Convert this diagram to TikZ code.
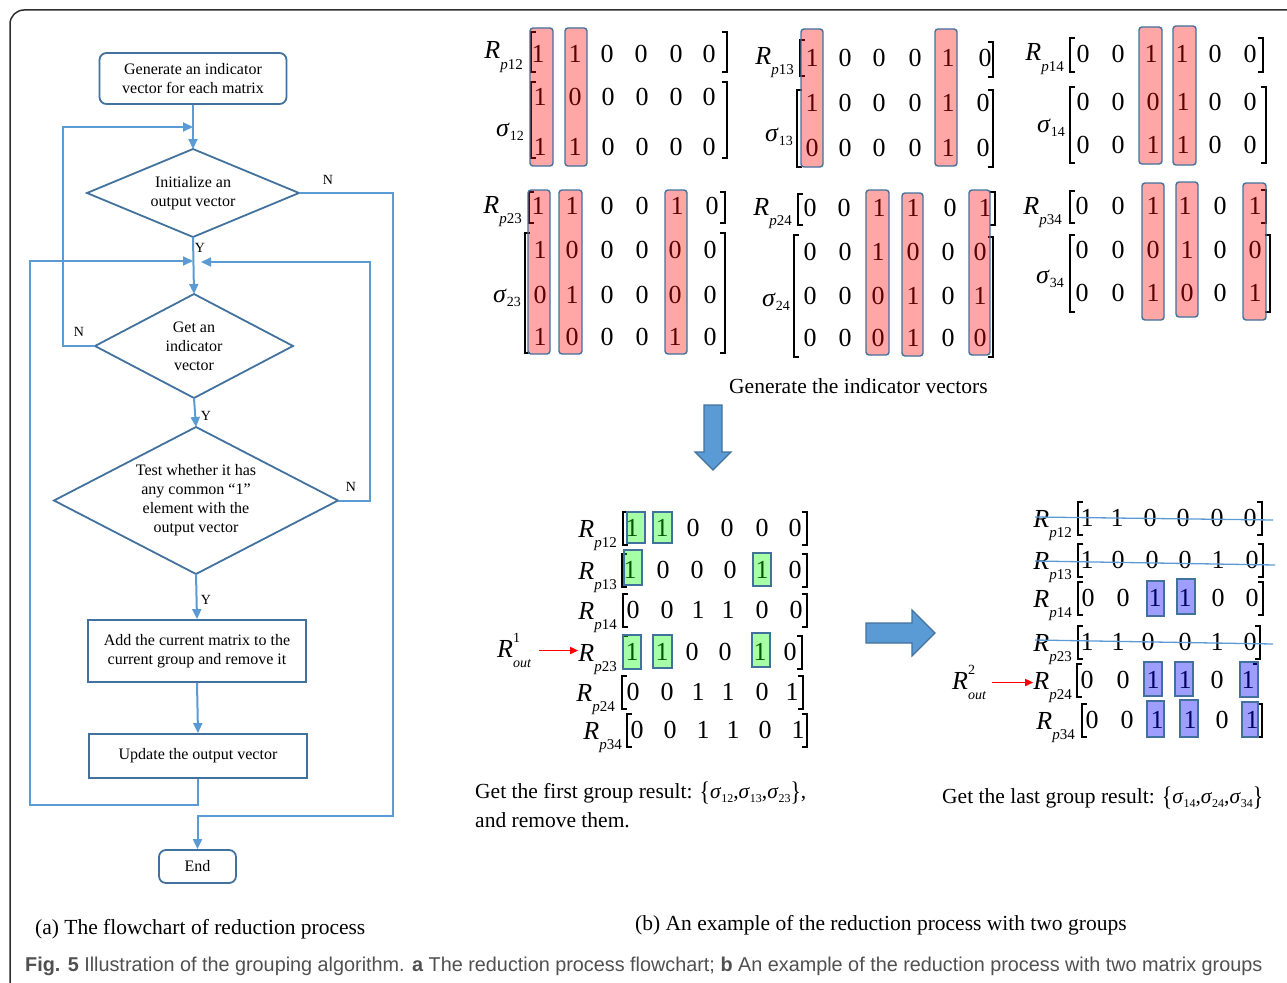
\documentclass[tikz,border=0pt]{standalone}
\usepackage{fontspec}
\usepackage{graphicx}
\setmainfont{Liberation Serif}
\newfontfamily\capfont{Liberation Sans}
\usetikzlibrary{arrows.meta,shapes.geometric,calc}

\definecolor{sblue}{HTML}{41719C}
\definecolor{cblue}{HTML}{5B9BD5}
\definecolor{capgray}{HTML}{505050}
\definecolor{framegray}{HTML}{2E2E2E}

% labels of the matrices
\newcommand\Rsub[1]{\textit{R}\raisebox{-0.42em}{\fontsize{15}{15}\selectfont\textit{p}#1}}
\newcommand\Ssub[1]{\textit{σ}\raisebox{-0.18em}{\fontsize{14}{14}\selectfont #1}}
\newcommand\Sres[1]{\textit{σ}\raisebox{-0.22em}{\fontsize{12}{12}\selectfont #1}}
\newcommand\Rout[1]{\textit{R}\makebox[0pt][l]{\raisebox{0.55em}{\fontsize{14}{14}\selectfont #1}}\raisebox{-0.4em}{\fontsize{14}{14}\selectfont\textit{out}}}
\newcommand\bigbr[1]{\raisebox{-0.1em}{\scalebox{1}[1.25]{#1}}}

% one row of matrix entries, square brackets, highlight boxes
\newcommand\mrow[3]{\foreach \px/\pv [count=\ci] in {#3} {\node[num] (#1-\ci) at (\px,#2) {\pv};}}
\newcommand\lbk[3]{\draw[brk] (#1+5,#2) -- (#1,#2) -- (#1,#3) -- (#1+5,#3);}
\newcommand\rbk[3]{\draw[brk] (#1-5,#2) -- (#1,#2) -- (#1,#3) -- (#1-5,#3);}
\newcommand\hl[5]{\draw[#1] (#2,#3) rectangle (#4,#5);}

\begin{document}
\begin{tikzpicture}[x=1pt,y=-1pt,
  conn/.style={draw=cblue, line width=2pt},
  arr/.style={conn, -{Triangle[length=10pt,width=9pt]}},
  flowbox/.style={draw=sblue, line width=1.8pt, align=center, inner sep=0pt, font=\fontsize{16}{19}\selectfont},
  rflowbox/.style={flowbox, rounded corners=7pt},
  dia/.style={diamond, draw=sblue, line width=1.8pt, inner sep=0pt, outer sep=0pt},
  dtext/.style={align=center, inner sep=0pt, font=\fontsize{16}{19}\selectfont},
  yn/.style={inner sep=0pt, font=\fontsize{14}{14}\selectfont},
  num/.style={inner sep=0pt, font=\fontsize{26}{26}\selectfont},
  lab/.style={inner sep=0pt, font=\fontsize{26}{26}\selectfont, anchor=base east},
  brk/.style={black, line width=1.3pt},
  pinkbox/.style={draw=sblue, line width=1.4pt, rounded corners=3pt, fill=red, fill opacity=0.35},
  greenbox/.style={draw=sblue, line width=1.4pt, fill=green, fill opacity=0.35},
  purplebox/.style={draw=sblue, line width=1.4pt, fill=blue, fill opacity=0.38},
  strike/.style={draw=cblue, line width=1.3pt},
  txt/.style={inner sep=0pt, anchor=base west, font=\fontsize{21.5}{26}\selectfont},
  redarr/.style={draw=red, line width=1.4pt, -{Triangle[length=8pt,width=7pt]}},
  bigarrow/.style={fill=cblue, draw=sblue, line width=1.2pt},
  frame/.style={draw=framegray, line width=1.5pt, rounded corners=14pt}]

\useasboundingbox (0,0) rectangle (1287,982);
\begin{scope}
  \clip (0,0) rectangle (1287,982);
  \draw[frame] (10,10) rectangle (1320,1000);
\end{scope}

% ---------------- flowchart ----------------
\node[rflowbox, minimum width=187pt, minimum height=51pt] (start) at (193,78.5) {Generate an indicator\\vector for each matrix};
\node[dia, minimum width=212pt, minimum height=88pt] (d1) at (193,193) {};
\node[dtext] (d1t) at (d1) {Initialize an\\output vector};
\node[dia, minimum width=198pt, minimum height=104pt] (d2) at (194,346) {};
\node[dtext] (d2t) at (d2) {Get an\\indicator\\vector};
\node[dia, minimum width=284pt, minimum height=147pt] (d3) at (196,500.5) {};
\node[dtext] (d3t) at (d3) {Test whether it has\\any common ``1''\\element with the\\output vector};
\node[flowbox, minimum width=218pt, minimum height=62pt] (add) at (197,651) {Add the current matrix to the\\current group and remove it};
\node[flowbox, minimum width=218pt, minimum height=44pt] (upd) at (198,756) {Update the output vector};
\node[rflowbox, minimum width=77pt, minimum height=33pt] (end) at (197.5,866.5) {End};

\coordinate (j1) at (193,127);
\coordinate (j2l) at (193,261);
\coordinate (j2r) at (201,262);
\coordinate (ll) at (63,346);
\coordinate (nR) at (393,816);
\coordinate (lb) at (30,805);
\coordinate (rb) at (370,500.5);

\draw[arr] (start.south) -- (d1.north);
\draw[arr] (d1.south) -- (d2.north);
\draw[arr] (d2.south) -- (d3.north);
\draw[arr] (d3.south) -- (add.north);
\draw[arr] (add.south) -- (upd.north);
\draw[arr] (d2.west) -- (ll) |- (j1);
\draw[arr] (d1.east) -| (nR) -| (end.north);
\draw[arr] (upd.south) |- (lb) |- (j2l);
\draw[arr] (d3.east) -- (rb) |- (j2r);

\node[yn] (n1) at (328,180) {N};
\node[yn] (y1) at (200,248) {Y};
\node[yn] (n2) at (79,332) {N};
\node[yn] (y2) at (206,416) {Y};
\node[yn] (n3) at (351,487) {N};
\node[yn] (y3) at (206,600) {Y};

% ---------------- indicator vectors ----------------
% R_p12 / sigma_12
\mrow{a}{54}{538/1,575/1,607/0,641/0,676/0,709/0}
\mrow{sa1}{97}{540/1,575/0,608/0,642/0,676/0,709/0}
\mrow{sa2}{147}{540/1,575/1,608/0,642/0,676/0,709/0}
\lbk{531}{32}{72}\rbk{727}{32}{72}
\lbk{531}{82}{158}\rbk{727}{82}{158}
\node[lab] (la) at (523,59) {\Rsub{12}};
\node[lab] (lsa) at (524,136) {\Ssub{12}};
\hl{pinkbox}{530}{28}{553}{166}
\hl{pinkbox}{565}{28}{587}{166}

% R_p13 / sigma_13
\mrow{b}{58}{812/1,845/0,879/0,915/0,948/1,985/0}
\mrow{sb1}{103}{812/1,845/0,879/0,915/0,948/1,983/0}
\mrow{sb2}{148}{812/0,845/0,879/0,915/0,948/1,983/0}
\lbk{800}{40}{76}\rbk{993}{42}{77}
\lbk{797}{90}{167}\rbk{993}{90}{167}
\node[lab] (lb1) at (794,64) {\Rsub{13}};
\node[lab] (lsb) at (793,141) {\Ssub{13}};
\hl{pinkbox}{801}{29}{823}{167}
\hl{pinkbox}{935}{29}{957}{166}

% R_p14 / sigma_14
\mrow{c}{54}{1083/0,1118/0,1151/1,1182/1,1215/0,1250/0}
\mrow{sc1}{102}{1083/0,1118/0,1153/0,1183/1,1215/0,1250/0}
\mrow{sc2}{145}{1083/0,1118/0,1153/1,1183/1,1215/0,1250/0}
\lbk{1070}{38}{72}\rbk{1263}{38}{72}
\lbk{1070}{87}{163}\rbk{1266}{87}{163}
\node[lab] (lc) at (1064,61) {\Rsub{14}};
\node[lab] (lsc) at (1065,132) {\Ssub{14}};
\hl{pinkbox}{1139}{27}{1162}{164}
\hl{pinkbox}{1173}{26}{1196}{165}

% R_p23 / sigma_23
\mrow{d}{206}{538/1,572/1,607/0,642/0,677/1,712/0}
\mrow{sd1}{250}{540/1,572/0,607/0,642/0,675/0,710/0}
\mrow{sd2}{295}{540/0,572/1,607/0,642/0,675/0,710/0}
\mrow{sd3}{337}{540/1,572/0,607/0,642/0,675/1,710/0}
\lbk{529}{192}{223}\rbk{725}{192}{223}
\lbk{525}{233}{353}\rbk{725}{233}{353}
\node[lab] (ld) at (522,213) {\Rsub{23}};
\node[lab] (lsd) at (521,302) {\Ssub{23}};
\hl{pinkbox}{528}{190}{550}{354}
\hl{pinkbox}{559}{190}{582}{354}
\hl{pinkbox}{665}{190}{687}{354}

% R_p24 / sigma_24
\mrow{e}{208}{810/0,844/0,879/1,913/1,950/0,985/1}
\mrow{se1}{252}{810/0,845/0,878/1,913/0,948/0,980/0}
\mrow{se2}{296}{810/0,845/0,878/0,913/1,948/0,980/1}
\mrow{se3}{338}{810/0,845/0,878/0,913/1,948/0,980/0}
\lbk{798}{194}{225}\rbk{995}{192}{225}
\lbk{794}{235}{357}\rbk{993}{237}{357}
\node[lab] (le) at (792,215) {\Rsub{24}};
\node[lab] (lse) at (790,306) {\Ssub{24}};
\hl{pinkbox}{866}{190}{889}{355}
\hl{pinkbox}{902}{193}{923}{356}
\hl{pinkbox}{969}{190}{990}{355}

% R_p34 / sigma_34
\mrow{f}{206}{1082/0,1118/0,1153/1,1185/1,1220/0,1255/1}
\mrow{sf1}{250}{1082/0,1118/0,1153/0,1187/1,1220/0,1255/0}
\mrow{sf2}{293}{1082/0,1118/0,1153/1,1187/0,1220/0,1255/1}
\lbk{1070}{191}{223}\rbk{1266}{190}{223}
\lbk{1070}{235}{312}\rbk{1270}{235}{312}
\node[lab] (lf) at (1062,214) {\Rsub{34}};
\node[lab] (lsf) at (1064,283) {\Ssub{34}};
\hl{pinkbox}{1142}{183}{1164}{320}
\hl{pinkbox}{1176}{182}{1198}{317}
\hl{pinkbox}{1243}{183}{1266}{320}

\node[txt] (gen) at (729,393) {Generate the indicator vectors};

% block arrows
\draw[bigarrow] (704,405) -- (722,405) -- (722,452) -- (731,452) -- (713,470) -- (695,452) -- (704,452) -- cycle;
\draw[bigarrow] (866,623) -- (912,623) -- (912,610) -- (935,633) -- (912,656) -- (912,643) -- (866,643) -- cycle;

% ---------------- first group ----------------
\mrow{m1}{528}{632/1,662/1,693/0,727/0,762/0,795/0}
\mrow{m2}{570}{630/1,663/0,697/0,730/0,762/1,795/0}
\mrow{m3}{610}{633/0,667/0,698/1,728/1,762/0,796/0}
\mrow{m4}{652}{632/1,662/1,692/0,725/0,760/1,790/0}
\mrow{m5}{692}{633/0,667/0,698/1,728/1,762/0,792/1}
\mrow{m6}{730}{637/0,670/0,703/1,733/1,765/0,798/1}
\lbk{623}{512}{545}\rbk{807}{512}{545}
\lbk{622}{554}{587}\rbk{807}{554}{587}
\lbk{623}{594}{627}\rbk{807}{594}{627}
\lbk{623}{636}{669}\rbk{802}{636}{669}
\lbk{622}{676}{709}\rbk{803}{676}{709}
\lbk{627}{714}{747}\rbk{807}{714}{747}
\node[lab] (lm1) at (617,537) {\Rsub{12}};
\node[lab] (lm2) at (617,579) {\Rsub{13}};
\node[lab] (lm3) at (617,619) {\Rsub{14}};
\node[lab] (lm4) at (617,661) {\Rsub{23}};
\node[lab] (lm5) at (615,701) {\Rsub{24}};
\node[lab] (lm6) at (622,739) {\Rsub{34}};
\hl{greenbox}{627}{512}{645}{543}
\hl{greenbox}{653}{512}{672}{543}
\hl{greenbox}{624}{550}{642}{585}
\hl{greenbox}{753}{553}{771}{586}
\hl{greenbox}{623}{635}{641}{669}
\hl{greenbox}{653}{635}{672}{668}
\hl{greenbox}{752}{633}{770}{667}

\node[inner sep=0pt, anchor=base west, font=\fontsize{26}{26}\selectfont] (out1) at (497,657) {\Rout{1}};
\draw[redarr] (out1.east) ++(8,0) -- (lm4.west |- out1.east);

\node[txt] (res1) at (475,798) {Get the first group result: \bigbr{\{}\Sres{12},\Sres{13},\Sres{23}\bigbr{\}},};
\node[txt] (res1b) at (475,827) {and remove them.};

% ---------------- last group ----------------
\mrow{r1}{518}{1087/1,1117/1,1150/0,1183/0,1217/0,1250/0}
\mrow{r2}{560}{1087/1,1118/0,1152/0,1185/0,1218/1,1252/0}
\mrow{r3}{598}{1088/0,1123/0,1155/1,1185/1,1218/0,1252/0}
\mrow{r4}{642}{1087/1,1118/1,1148/0,1185/0,1217/1,1250/0}
\mrow{r5}{680}{1087/0,1123/0,1153/1,1185/1,1217/0,1248/1}
\mrow{r6}{720}{1092/0,1127/0,1157/1,1190/1,1222/0,1252/1}
\lbk{1078}{502}{535}\rbk{1262}{502}{535}
\lbk{1078}{544}{577}\rbk{1263}{544}{577}
\lbk{1078}{582}{615}\rbk{1263}{582}{615}
\lbk{1078}{626}{659}\rbk{1260}{626}{659}
\lbk{1077}{664}{697}\rbk{1258}{664}{697}
\lbk{1082}{704}{737}\rbk{1262}{704}{737}
\node[lab] (lr1) at (1072,527) {\Rsub{12}};
\node[lab] (lr2) at (1072,569) {\Rsub{13}};
\node[lab] (lr3) at (1072,607) {\Rsub{14}};
\node[lab] (lr4) at (1072,651) {\Rsub{23}};
\node[lab] (lr5) at (1072,689) {\Rsub{24}};
\node[lab] (lr6) at (1075,729) {\Rsub{34}};
\hl{purplebox}{1147}{581}{1164}{616}
\hl{purplebox}{1177}{579}{1195}{614}
\hl{purplebox}{1144}{662}{1162}{696}
\hl{purplebox}{1175}{662}{1193}{696}
\hl{purplebox}{1240}{662}{1258}{697}
\hl{purplebox}{1147}{701}{1164}{737}
\hl{purplebox}{1180}{700}{1198}{737}
\hl{purplebox}{1242}{702}{1258}{737}
\draw[strike] (1035,517) -- (1273,520);
\draw[strike] (1035,561) -- (1275,565);
\draw[strike] (1035,640) -- (1273,644);

\node[inner sep=0pt, anchor=base west, font=\fontsize{26}{26}\selectfont] (out2) at (952,689) {\Rout{2}};
\draw[redarr] (out2.east) ++(6,0) -- (lr5.west |- out2.east);

\node[txt] (res2) at (942,803) {Get the last group result: \bigbr{\{}\Sres{14},\Sres{24},\Sres{34}\bigbr{\}}};

% ---------------- captions ----------------
\node[txt] (capa) at (35,934) {(a) The flowchart of reduction process};
\node[txt] (capb) at (635,930) {(b) An example of the reduction process with two groups};
\node[inner sep=0pt, anchor=base west, text=capgray] (fig) at (25,971)
  {\resizebox{1237pt}{\height}{\capfont\fontsize{20}{22}\selectfont\textbf{Fig. 5} Illustration of the grouping algorithm. \textbf{a} The reduction process flowchart; \textbf{b} An example of the reduction process with two matrix groups}};
\end{tikzpicture}
\end{document}
